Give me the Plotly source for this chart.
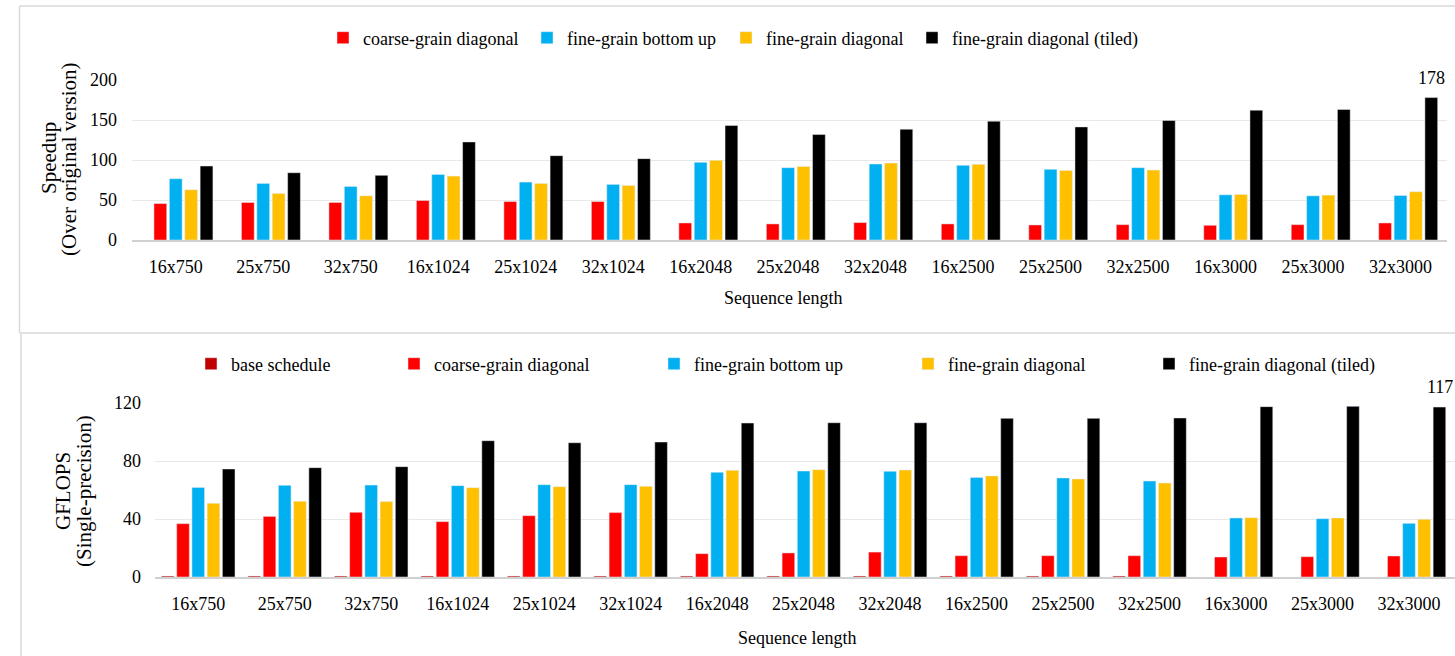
import plotly.graph_objects as go

# ---- data -------------------------------------------------------------
categories = ["16x750", "25x750", "32x750", "16x1024", "25x1024", "32x1024",
              "16x2048", "25x2048", "32x2048", "16x2500", "25x2500", "32x2500",
              "16x3000", "25x3000", "32x3000"]

# Speedup over the original version
speedup_base = [None] * 15
speedup_coarse = [45.6, 46.9, 46.9, 49.4, 48.1, 48.1, 21.3, 20.1, 21.8,
                  20.1, 18.8, 19.2, 18.4, 19.2, 21.3]
speedup_bottom_up = [76.6, 70.7, 66.9, 82.0, 72.4, 69.5, 97.1, 90.4, 95.0,
                     93.3, 88.3, 90.4, 56.5, 55.2, 55.6]
speedup_diagonal = [62.8, 58.2, 55.2, 79.9, 70.7, 68.2, 99.6, 92.0, 96.2,
                    94.6, 87.0, 87.4, 56.9, 56.1, 60.3]
speedup_tiled = [92.5, 84.1, 80.8, 122.6, 105.4, 101.7, 143.1, 131.8, 138.5,
                 148.5, 141.4, 149.4, 162.3, 163.2, 178.0]

# GFLOPS (single precision)
gflops_base = [0.7, 0.7, 0.7, 0.7, 0.7, 0.7, 0.7, 0.7, 0.7, 0.7, 0.7, 0.7,
               None, None, None]
gflops_coarse = [36.8, 41.8, 44.6, 38.2, 42.3, 44.4, 16.1, 16.6, 17.2,
                 14.7, 14.7, 14.7, 13.8, 14.0, 14.5]
gflops_bottom_up = [61.8, 63.2, 63.4, 63.0, 63.7, 63.7, 72.2, 73.1, 72.9,
                    68.7, 68.3, 66.2, 40.7, 40.2, 37.0]
gflops_diagonal = [50.8, 52.2, 52.0, 61.6, 62.3, 62.5, 73.6, 74.0, 73.8,
                   69.7, 67.6, 64.8, 40.9, 40.7, 39.8]
gflops_tiled = [74.5, 75.4, 76.1, 94.0, 92.6, 93.1, 106.2, 106.4, 106.4,
                109.4, 109.4, 109.7, 117.5, 117.7, 117.2]

series_names = ["base schedule", "coarse-grain diagonal", "fine-grain bottom up",
                "fine-grain diagonal", "fine-grain diagonal (tiled)"]
series_colors = ["#C00000", "#FF0000", "#00B0F0", "#FFC000", "#000000"]

# ---- layout helpers (figure is 1455 x 656 px, zero margins) ------------
W, H = 1455, 656
FONT = "Liberation Serif, Times New Roman, serif"


def px(x):
    return x / W


def py(y):
    return 1 - y / H


fig = go.Figure()

top_series = [speedup_base, speedup_coarse, speedup_bottom_up,
              speedup_diagonal, speedup_tiled]
bottom_series = [gflops_base, gflops_coarse, gflops_bottom_up,
                 gflops_diagonal, gflops_tiled]

# legend text start positions (px) for each chart
top_legend_x = [None, 365, 569, 768, 954]
bottom_legend_x = [233, 436, 696, 950, 1191]

legend_layouts = {}
legend_idx = 1


def legend_key(i):
    return "legend" if i == 1 else f"legend{i}"


for k, (name, color, vals) in enumerate(zip(series_names, series_colors, top_series)):
    if top_legend_x[k] is None:
        fig.add_trace(go.Bar(x=categories, y=vals, name=name, marker_color=color,
                             showlegend=False, xaxis="x", yaxis="y"))
        continue
    key = legend_key(legend_idx)
    legend_layouts[key] = dict(x=px(top_legend_x[k] - 42), y=py(38),
                               xanchor="left", yanchor="middle")
    fig.add_trace(go.Bar(x=categories, y=vals, name=name, marker_color=color,
                         legend=key, xaxis="x", yaxis="y"))
    legend_idx += 1

for k, (name, color, vals) in enumerate(zip(series_names, series_colors, bottom_series)):
    key = legend_key(legend_idx)
    legend_layouts[key] = dict(x=px(bottom_legend_x[k] - 42), y=py(364),
                               xanchor="left", yanchor="middle")
    fig.add_trace(go.Bar(x=categories, y=vals, name=name, marker_color=color,
                         legend=key, xaxis="x2", yaxis="y2"))
    legend_idx += 1

for key, cfg in legend_layouts.items():
    cfg.update(orientation="h", bgcolor="rgba(0,0,0,0)",
               font=dict(family=FONT, size=18, color="#000000"))

# value labels on the tallest bars
annotations = [
    dict(x=categories[-1], y=speedup_tiled[-1], xref="x", yref="y",
         text=f"{speedup_tiled[-1]:.0f}", showarrow=False, xshift=31, yshift=20,
         xanchor="center", yanchor="middle",
         font=dict(family=FONT, size=18, color="#000000")),
    dict(x=categories[-1], y=gflops_tiled[-1], xref="x2", yref="y2",
         text=f"{gflops_tiled[-1]:.0f}", showarrow=False, xshift=31, yshift=20,
         xanchor="center", yanchor="middle",
         font=dict(family=FONT, size=18, color="#000000")),
]

# axis titles
x_title_font = dict(family=FONT, size=18, color="#000000")
y_title_font = dict(family=FONT, size=21, color="#000000")
title_common = dict(xref="paper", yref="paper", showarrow=False,
                    xanchor="center", yanchor="middle")
annotations += [
    dict(x=px(49), y=py(158), text="Speedup", textangle=-90,
         font=y_title_font, **title_common),
    dict(x=px(69), y=py(159), text="(Over original version)", textangle=-90,
         font=y_title_font, **title_common),
    dict(x=px(783), y=py(298), text="Sequence length", font=x_title_font,
         **title_common),
    dict(x=px(63), y=py(491), text="GFLOPS", textangle=-90,
         font=y_title_font, **title_common),
    dict(x=px(84), y=py(491), text="(Single-precision)", textangle=-90,
         font=y_title_font, **title_common),
    dict(x=px(797), y=py(638), text="Sequence length", font=x_title_font,
         **title_common),
]

# panel frames
frame = dict(color="#D9D9D9", width=1.5)
shapes = [
    dict(type="line", xref="paper", yref="paper", x0=px(19.5), x1=px(19.5),
         y0=py(6), y1=py(333), line=frame),
    dict(type="line", xref="paper", yref="paper", x0=px(19.5), x1=1,
         y0=py(6), y1=py(6), line=frame),
    dict(type="line", xref="paper", yref="paper", x0=px(19.5), x1=1,
         y0=py(333), y1=py(333), line=frame),
    dict(type="line", xref="paper", yref="paper", x0=px(21), x1=px(21),
         y0=py(334), y1=0, line=frame),
]

tick_font = dict(family=FONT, size=18, color="#000000")
xaxis_common = dict(type="category", showgrid=False, showline=True,
                    linecolor="#D0D0D0", linewidth=1.5, ticks="",
                    tickfont=tick_font, ticklabelstandoff=10, fixedrange=True)
yaxis_common = dict(showgrid=True, gridcolor="#E8E8E8", gridwidth=1,
                    zeroline=False, showline=False, ticks="",
                    tickfont=tick_font, fixedrange=True)

fig.update_layout(
    width=W, height=H,
    margin=dict(l=0, r=0, t=0, b=0, autoexpand=False),
    paper_bgcolor="white", plot_bgcolor="white",
    barmode="group", bargap=0.12, bargroupgap=0.17,
    font=dict(family=FONT, size=18, color="#000000"),
    xaxis=dict(domain=[px(132), px(1447)], anchor="y", **xaxis_common),
    yaxis=dict(domain=[py(240), py(80)], anchor="x", range=[0, 200],
               tickvals=[0, 50, 100, 150, 200], ticklabelstandoff=14,
               **yaxis_common),
    xaxis2=dict(domain=[px(155), 1.0], anchor="y2", **xaxis_common),
    yaxis2=dict(domain=[py(577), py(403)], anchor="x2", range=[0, 120],
                tickvals=[0, 40, 80, 120], ticklabelstandoff=13,
                **yaxis_common),
    annotations=annotations,
    shapes=shapes,
    **legend_layouts,
)
fig.update_traces(cliponaxis=False)

fig.write_html("out.html")
